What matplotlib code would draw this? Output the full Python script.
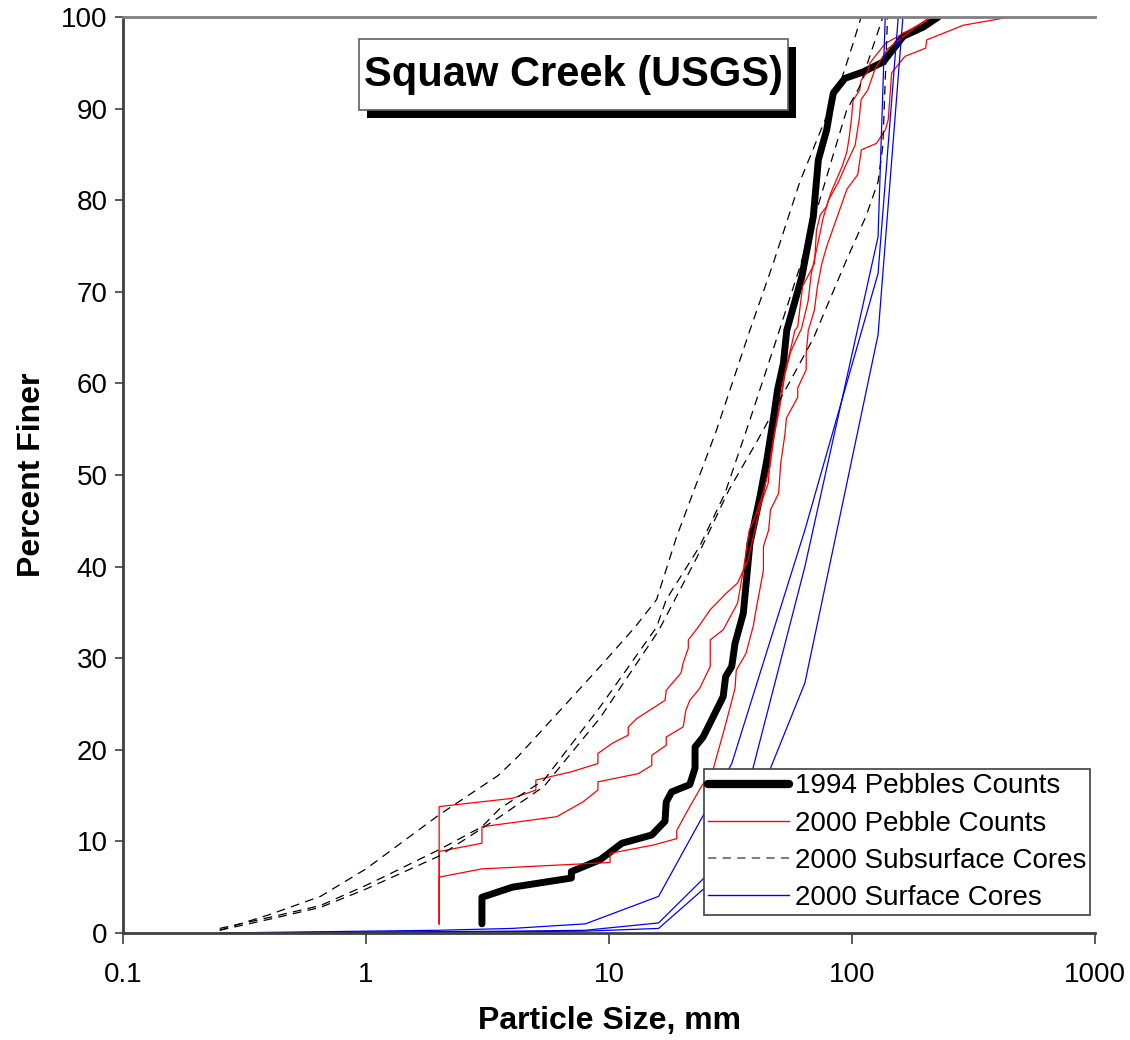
import matplotlib
matplotlib.use("Agg")
import matplotlib.pyplot as plt
from matplotlib.lines import Line2D
from matplotlib.patches import Rectangle
from matplotlib.ticker import FixedLocator, FixedFormatter, NullLocator

plt.rcParams['font.family'] = ['Liberation Sans', 'DejaVu Sans']

# 1994 pebble count (size mm, percent finer)
peb94_d = [3.0, 3.0, 4.0, 7.0, 7.0, 9.2, 11.3, 15.0, 17.0, 17.2, 18.1, 21.5, 22.6, 22.6, 24.4,
           29.5, 30.2, 32.0, 33.0, 35.7, 38.0, 41.8, 44.6, 47.4, 49.4, 52.2, 53.9, 62.1, 69.3,
           72.7, 78.7, 81.2, 83.8, 93.5, 111, 134.5, 162.6, 196.5, 226.5]
peb94_p = [1.0, 3.9, 5.0, 6.0, 6.7, 8.0, 9.8, 10.7, 12.2, 14.3, 15.4, 16.2, 18.0, 20.3, 21.4,
           25.8, 28.0, 29.1, 31.6, 34.9, 42.5, 47.6, 51.6, 56.0, 59.3, 62.2, 65.8, 71.6, 78.2,
           84.4, 87.7, 89.8, 91.7, 93.3, 94.0, 95.1, 97.9, 98.9, 100.0]

# 2000 pebble counts
peb1_d = [2, 2, 4.0, 5.0, 5.0, 7.0, 9.0, 9.0, 10.3, 12.0, 12.0, 13.0, 17.0, 17.2, 19.8, 20.2,
          21.2, 21.2, 23.3, 26.1, 30.4, 33.8, 37.3, 41.9, 45.2, 46.2, 49.0, 50.9, 52.2, 54.0,
          56.2, 58.2, 59.8, 62.6, 70.1, 71.4, 74.0, 78.6, 81.8, 91.1, 95.3, 97.4, 99.4, 101,
          107.5, 109, 116, 118.6, 137, 170, 215]
peb1_p = [1.0, 13.8, 14.7, 15.6, 16.7, 17.6, 18.5, 19.6, 20.7, 21.6, 22.5, 23.4, 25.4, 26.5,
          28.4, 29.5, 31.1, 32.0, 33.4, 35.3, 37.1, 38.2, 40.7, 46.6, 49.1, 52.0, 56.0, 58.5,
          60.4, 62.2, 64.0, 65.8, 66.2, 70.6, 73.1, 76.7, 78.4, 79.3, 80.8, 83.7, 85.3, 86.9,
          88.8, 90.9, 92.0, 93.1, 94.0, 95.0, 97.1, 98.5, 100.0]
peb2_d = [2, 2, 3.0, 3.0, 6.1, 7.8, 9.0, 9.0, 13.2, 15.0, 15.0, 17.2, 17.2, 20.2, 20.7, 21.5,
          23.6, 26.1, 26.1, 29.5, 31.5, 33.8, 35.7, 37.8, 40, 43, 46, 48, 50.5, 53, 56, 62,
          66, 68, 72, 76, 80, 88, 95, 103, 107, 109, 116, 124.7, 140, 180, 210]
peb2_p = [1.0, 8.9, 9.8, 11.6, 12.7, 14.3, 15.6, 16.5, 17.4, 18.3, 19.4, 20.5, 21.4, 22.5,
          24.3, 25.4, 26.7, 29.1, 32.0, 33.1, 34.5, 36.0, 39.6, 44.0, 45.5, 48, 51, 54.5, 57.5,
          61, 63.5, 66, 69, 72, 75, 78, 80, 82, 84, 86, 88.8, 91, 92.0, 94.4, 96.5, 98.8, 100.0]
peb3_d = [2, 2, 3.0, 10.1, 10.1, 15.2, 19.0, 19.0, 21.5, 24, 26.9, 30.0, 33.0, 33.4, 36.6,
          39.3, 40.3, 43.2, 43.2, 45.4, 46.2, 49.9, 50.9, 53.0, 53.7, 59.8, 59.8, 64.8, 64.8,
          66.1, 70, 72, 75, 78.6, 95.3, 105.6, 109.3, 126.1, 137.3, 141, 145.6, 165, 201, 203,
          287, 447]
peb3_p = [1.0, 6.1, 7.0, 7.7, 8.7, 9.6, 10.3, 11.2, 13.8, 16, 18.0, 22.5, 26.7, 28.7, 30.5,
          33.6, 35.3, 39.6, 42.2, 44.0, 46.2, 48.0, 51.3, 54.5, 56.2, 58.5, 59.5, 61.5, 63.3,
          65.8, 68, 70.5, 73, 74.9, 81.2, 82.8, 85.5, 86.2, 87.7, 88.8, 93.9, 95.7, 96.6, 97.5,
          99.1, 100.0]

# 2000 subsurface cores
sub1_d = [0.25, 0.4, 0.65, 1.0, 2.0, 3.5, 4.2, 9.2, 12.8, 15.7, 19, 27.7, 38, 47.4, 61, 69,
          90, 101, 109]
sub1_p = [0.3, 2.0, 4.0, 7.0, 12.9, 17.2, 19.2, 29.1, 33.4, 36.4, 43.3, 54.9, 65.8, 73.1, 82,
          85.5, 93, 97.1, 100]
sub2_d = [0.25, 0.4, 0.65, 1.0, 1.22, 2.0, 3.0, 3.56, 5.4, 9.2, 15.7, 17.2, 23.6, 30, 38, 49,
          61, 84, 95, 107.5, 134]
sub2_p = [0.5, 1.7, 3.0, 5.2, 6.3, 9.1, 11.6, 13.6, 16.7, 24.7, 33.4, 36.4, 42.2, 48, 56,
          64.9, 72.7, 85.1, 89.8, 92.4, 100]
sub3_d = [0.25, 0.4, 0.65, 1.0, 2.0, 3.56, 5.4, 9.2, 16, 23, 31.2, 40.3, 55, 69.3, 95, 114,
          128, 134, 140]
sub3_p = [0.3, 1.5, 2.8, 4.8, 8.4, 12.7, 16.0, 23.5, 33, 41, 48.4, 53.5, 60, 64.9, 73.5, 78.2,
          82, 86, 100]

# 2000 surface cores
surf1_d = [0.25, 1, 2, 4, 8, 16, 32, 64, 128, 155]
surf1_p = [0.0, 0.2, 0.3, 0.5, 1.0, 4.0, 18.5, 44, 72, 100]
surf2_d = [0.25, 1, 2, 4, 8, 16, 32, 64, 128, 137]
surf2_p = [0.0, 0.1, 0.15, 0.2, 0.3, 1.1, 9, 40, 76, 100]
surf3_d = [0.25, 1, 2, 4, 8, 16, 32, 64, 128, 162]
surf3_p = [0.0, 0.05, 0.1, 0.15, 0.2, 0.5, 7.5, 27.3, 65.3, 100]

fig = plt.figure(figsize=(11.3, 10.4), dpi=100)
ax = fig.add_axes([123 / 1130, 1 - 933 / 1040, 972 / 1130, 916 / 1040])

ax.plot(peb94_d, peb94_p, color='black', lw=5, solid_joinstyle='round', solid_capstyle='round')
for d, p in [(peb1_d, peb1_p), (peb2_d, peb2_p), (peb3_d, peb3_p)]:
    ax.plot(d, p, color='#ff0000', lw=0.9)
for d, p in [(sub1_d, sub1_p), (sub2_d, sub2_p), (sub3_d, sub3_p)]:
    ax.plot(d, p, color='black', lw=0.9, ls=(0, (7, 5)))
for d, p in [(surf1_d, surf1_p), (surf2_d, surf2_p), (surf3_d, surf3_p)]:
    ax.plot(d, p, color='#0000ff', lw=0.9)

ax.set_xscale('log')
ax.set_xlim(0.1, 1000)
ax.set_ylim(0, 100)
ax.xaxis.set_major_locator(FixedLocator([0.1, 1, 10, 100, 1000]))
ax.xaxis.set_major_formatter(FixedFormatter(['0.1', '1', '10', '100', '1000']))
ax.xaxis.set_minor_locator(NullLocator())
ax.set_yticks(range(0, 101, 10))
ax.tick_params(axis='x', labelsize=20, length=8, width=1.2, pad=13, colors='#404040', labelcolor='black')
ax.tick_params(axis='y', labelsize=20, length=6, width=1.2, pad=5, colors='#404040', labelcolor='black')

for s in ['left', 'bottom']:
    ax.spines[s].set_color('#404040')
    ax.spines[s].set_linewidth(2)
ax.spines['top'].set_color('#808080')
ax.spines['top'].set_linewidth(2)
ax.spines['right'].set_visible(False)

ax.set_xlabel('Particle Size, mm', fontsize=23, fontweight='bold', labelpad=13)
ax.set_ylabel('Percent Finer', fontsize=23, fontweight='bold', labelpad=10)

handles = [
    Line2D([], [], color='black', lw=6, solid_capstyle='round'),
    Line2D([], [], color='#ff0000', lw=1),
    Line2D([], [], color='#808080', lw=1.5, ls=(0, (4, 3))),
    Line2D([], [], color='#0000ff', lw=1),
]
labels = ['1994 Pebbles Counts', '2000 Pebble Counts', '2000 Subsurface Cores', '2000 Surface Cores']
leg = ax.legend(handles, labels, loc='lower right', bbox_to_anchor=(0.995, 0.0197),
                borderaxespad=0, fontsize=20, handlelength=2.9, handletextpad=0.2,
                labelspacing=0.4, borderpad=0.15, fancybox=False, framealpha=1)
leg.get_frame().set_edgecolor('#404040')
leg.get_frame().set_linewidth(1.2)

# title box with shadow
W, H = 1130, 1040
fig.add_artist(Rectangle((367 / W, 1 - 118 / H), 429 / W, 71 / H, transform=fig.transFigure,
                         facecolor='black', edgecolor='none', zorder=5))
fig.add_artist(Rectangle((359 / W, 1 - 110 / H), 429 / W, 71 / H, transform=fig.transFigure,
                         facecolor='white', edgecolor='#606060', lw=1.2, zorder=6))
fig.text(573 / W, 1 - 75 / H, 'Squaw Creek (USGS)', fontsize=30, fontweight='bold',
         ha='center', va='center', zorder=7)

fig.savefig('out.png', dpi=100)
